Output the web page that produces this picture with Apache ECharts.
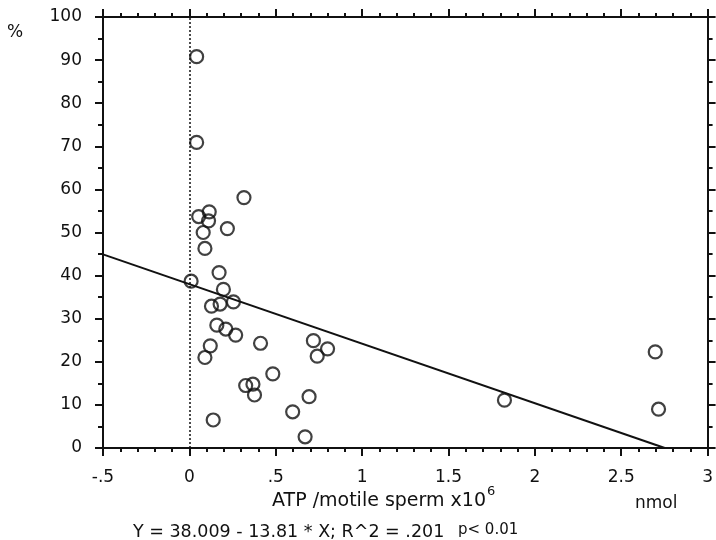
<!DOCTYPE html>
<html>
<head>
<meta charset="utf-8">
<script src="https://cdn.jsdelivr.net/npm/echarts@6/dist/echarts.min.js"></script>
<style>
  html, body { margin: 0; padding: 0; background: #fff; }
  #chart { width: 716px; height: 540px; }
</style>
</head>
<body>
<div id="chart"></div>
<script>
// ATP per motile sperm (x10^6, nmol) against percentage
const atp = [0.042, 0.042, 0.316, 0.054, 0.115, 0.111, 0.22, 0.08, 0.09, 0.172,
             0.01, 0.197, 0.128, 0.178, 0.255, 0.159, 0.211, 0.268, 0.412, 0.121,
             0.09, 0.718, 0.80, 0.74, 0.483, 0.326, 0.368, 0.377, 0.693, 0.598,
             0.138, 0.67, 1.824, 2.697, 2.716];
const pct = [90.8, 70.9, 58.1, 53.7, 54.8, 52.7, 50.9, 50.0, 46.3, 40.7,
             38.7, 36.8, 32.9, 33.4, 33.9, 28.5, 27.6, 26.2, 24.3, 23.7,
             21.0, 24.9, 23.0, 21.3, 17.2, 14.5, 14.8, 12.3, 11.9, 8.4,
             6.5, 2.6, 11.1, 22.3, 9.0];

// Linear fit: Y = 38.009 - 13.81 * X
const intercept = 38.009;
const slope = -13.81;
const fitX = [-0.5, intercept / -slope];

const xTicks = ['-.5', '0', '.5', '1', '1.5', '2', '2.5', '3'];

const points = atp.map((x, i) => [x, pct[i]]);
const fitLine = fitX.map(x => [x, intercept + slope * x]);

const FONT = '"DejaVu Sans", Verdana, sans-serif';
const INK = '#111';
const axisLineStyle = { color: INK, width: 2 };

function xAxisCfg(pos, showLabels) {
  return {
    type: 'value', position: pos, min: -0.5, max: 3, interval: 0.5,
    axisLine: { show: true, onZero: false, lineStyle: axisLineStyle },
    axisTick: { show: true, inside: false, length: 8, lineStyle: { color: INK, width: 2 } },
    minorTick: { show: true, splitNumber: 5, length: 4, lineStyle: { color: INK, width: 2 } },
    splitLine: { show: false },
    axisLabel: {
      show: showLabels, color: INK, fontFamily: FONT, fontSize: 17, margin: 21,
      formatter: v => {
        const idx = Math.round((v + 0.5) / 0.5);
        return xTicks[idx] !== undefined ? xTicks[idx] : '';
      }
    }
  };
}

function yAxisCfg(pos, showLabels) {
  return {
    type: 'value', position: pos, min: 0, max: 100, interval: 10,
    axisLine: { show: true, onZero: false, lineStyle: axisLineStyle },
    axisTick: { show: true, inside: false, length: 8, lineStyle: { color: INK, width: 2 } },
    minorTick: { show: true, splitNumber: 2, length: 5, lineStyle: { color: INK, width: 2 } },
    splitLine: { show: false },
    axisLabel: { show: showLabels, color: INK, fontFamily: FONT, fontSize: 17, margin: 21 }
  };
}

const chart = echarts.init(document.getElementById('chart'));
chart.setOption({
  animation: false,
  backgroundColor: '#fff',
  grid: { left: 103, right: 4, top: 17, bottom: 92 },
  xAxis: [xAxisCfg('bottom', true), xAxisCfg('top', false)],
  yAxis: [yAxisCfg('left', true), yAxisCfg('right', false)],
  series: [
    {
      type: 'scatter',
      data: points,
      symbol: 'circle',
      symbolSize: 13,
      itemStyle: { color: 'rgba(255,255,255,0)', borderColor: INK, borderWidth: 2.2 },
      markLine: {
        silent: true,
        symbol: 'none',
        label: { show: false },
        lineStyle: { color: INK, type: [2, 2], width: 1.5 },
        data: [{ xAxis: 0 }]
      },
      z: 3
    },
    {
      type: 'line',
      data: fitLine,
      symbol: 'none',
      lineStyle: { color: INK, width: 2 },
      z: 2
    }
  ],
  graphic: [
    { type: 'text', x: 15, y: 33,
      style: { text: '%', font: '17px ' + FONT, fill: INK, align: 'center', verticalAlign: 'middle' } },
    { type: 'text', x: 272, y: 498,
      style: {
        text: '{b|ATP /motile sperm x10}{s|6}',
        align: 'left', verticalAlign: 'middle',
        rich: {
          b: { fontFamily: FONT, fontSize: 19, fill: INK, verticalAlign: 'bottom' },
          s: { fontFamily: FONT, fontSize: 13, fill: INK, verticalAlign: 'top', padding: [0, 0, 12, 1] }
        }
      } },
    { type: 'text', x: 635, y: 504,
      style: { text: 'nmol', font: '17px ' + FONT, fill: INK, align: 'left', verticalAlign: 'middle' } },
    { type: 'text', x: 133, y: 532,
      style: { text: 'Y = 38.009 - 13.81 * X; R^2 = .201', font: '17.5px ' + FONT, fill: INK, align: 'left', verticalAlign: 'middle' } },
    { type: 'text', x: 458, y: 530,
      style: { text: 'p< 0.01', font: '15px ' + FONT, fill: INK, align: 'left', verticalAlign: 'middle' } }
  ]
});
</script>
</body>
</html>
